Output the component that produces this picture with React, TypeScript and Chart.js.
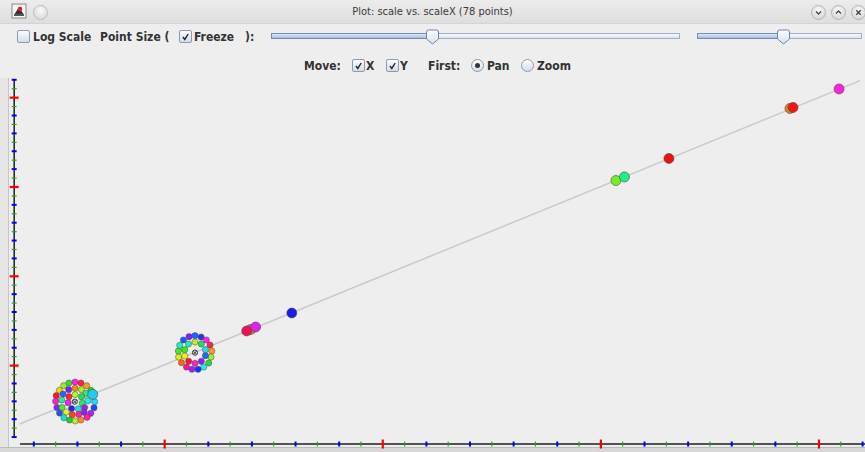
import React, { useEffect, useRef } from "react";
import { Chart, registerables } from "chart.js";
Chart.register(...registerables);

// ---- data (data units of the plot) ----
const clusterAX = [5.61, 5.89, 6.16, 6.42, 5.37, 5.17, 5.60, 5.89, 6.18, 6.39, 6.62, 5.03, 5.34, 5.61, 5.89, 6.19, 5.28, 5.00, 5.57, 6.22, 6.48, 6.79, 5.06, 5.29, 5.73, 6.04, 6.33, 6.76, 5.18, 5.49, 5.76, 6.06, 6.31, 6.61, 5.38, 5.64, 5.90, 6.16, 6.44];
const clusterAY = [8.05, 8.16, 8.05, 7.75, 7.75, 7.23, 7.31, 7.46, 7.31, 6.90, 7.23, 6.63, 6.82, 6.52, 6.75, 6.52, 6.15, 6.00, 5.85, 5.78, 6.07, 5.96, 5.31, 5.31, 5.20, 5.16, 5.31, 5.28, 4.69, 4.81, 4.51, 4.54, 4.77, 4.66, 4.17, 3.91, 3.80, 3.91, 4.21];
const clusterAColors = ["#33dd33", "#ff22dd", "#ff2244", "#ff9922", "#99ee22", "#ffcc11", "#7722ee", "#ff8811", "#aaee22", "#22ee88", "#22dd22", "#ff1133", "#2266ff", "#ff2233", "#aaff22", "#22dd55", "#22eeaa", "#ff22bb", "#ee22ee", "#22ee66", "#22eeee", "#22ddff", "#8822ff", "#44ee22", "#2222ff", "#22dddd", "#9922ee", "#2244ff", "#2255ff", "#eeee22", "#ff4411", "#ff22aa", "#8822ee", "#aa22ee", "#22ddcc", "#22cc33", "#bbee22", "#ff8822", "#ff2299"];

const clusterBX = [10.86, 11.12, 11.39, 11.67, 11.91, 12.08, 12.16, 12.12, 12.02, 11.79, 11.53, 11.25, 11.00, 10.77, 10.64, 10.63, 10.69, 11.09, 11.39, 11.68, 11.87, 11.87, 11.68, 11.39, 11.10, 10.92, 10.92];
const clusterBY = [12.87, 13.24, 13.35, 13.20, 12.87, 12.31, 11.64, 10.96, 10.29, 9.84, 9.59, 9.59, 9.84, 10.33, 10.96, 11.64, 12.27, 12.42, 12.64, 12.42, 11.78, 11.11, 10.48, 10.26, 10.48, 11.08, 11.78];
const clusterBColors = ["#2255ff", "#8022ff", "#1a66ff", "#3333ee", "#ff22ee", "#ff2244", "#ff9922", "#aaee22", "#22dd44", "#22eeee", "#1133ff", "#a022ee", "#ff11a0", "#ff6611", "#ddee11", "#44ee22", "#22eec0", "#22eeb0", "#c0ee22", "#22dd66", "#22ddee", "#2266ff", "#9022ee", "#ff22c0", "#ff1133", "#eeee22", "#33ee22"];

const singleX = [6.70, 13.94, 13.76, 14.17, 15.83, 30.69, 31.08, 33.12, 38.67, 38.81, 40.92];
const singleY = [6.78, 14.04, 13.88, 14.32, 15.89, 30.72, 31.12, 33.19, 38.79, 38.90, 40.97];
const singleColors = ["#22ccee", "#ee7711", "#ee1155", "#dd22ee", "#1a1aee", "#77ee22", "#22ee88", "#ee1111", "#dd8811", "#ff1111", "#ff22dd"];

const centerX = [5.88, 11.39];
const centerY = [5.96, 11.45];

const fitX = [3.35, 41.88];
const fitY = [3.46, 41.90];

// axis ticks
const xTickFirst = 4;
const xTickLast = 42;
const yTickFirst = 2;
const yTickLast = 42;
const majorEvery = 10;

const xMin = 3.0, xMax = 42.11, yMin = 1.0, yMax = 42.2;
const yAxisAtX = 3.1, xAxisAtY = 1.22;
const xAxisFrom = 3.37, yAxisFrom = 1.9, yAxisTo = 41.98;

const pts = (xs: number[], ys: number[]) => xs.map((x, i) => ({ x, y: ys[i] }));

function tickStyle(v: number) {
  if (v % majorEvery === 0) return { c: "#ff0000", w: 2.2, l: 4.5 };
  if (v % 2 === 1) return { c: "#22aa22", w: 1.2, l: 2.5 };
  return { c: "#0000ff", w: 2, l: 2.5 };
}

const axesPlugin = {
  id: "javaAxes",
  beforeDatasetsDraw(chart: any) {
    const { ctx, scales } = chart;
    const x = scales.x, y = scales.y;
    const ax = x.getPixelForValue(yAxisAtX);
    const ay = y.getPixelForValue(xAxisAtY);
    ctx.save();
    ctx.strokeStyle = "#1e1e1e";
    ctx.lineWidth = 1.5;
    ctx.beginPath();
    ctx.moveTo(ax, y.getPixelForValue(yAxisTo));
    ctx.lineTo(ax, y.getPixelForValue(yAxisFrom));
    ctx.stroke();
    ctx.beginPath();
    ctx.moveTo(x.getPixelForValue(xAxisFrom), ay);
    ctx.lineTo(x.getPixelForValue(xMax), ay);
    ctx.stroke();
    for (let v = xTickFirst; v <= xTickLast; v++) {
      const s = tickStyle(v);
      const p = x.getPixelForValue(v);
      ctx.strokeStyle = s.c;
      ctx.lineWidth = s.w;
      ctx.beginPath();
      ctx.moveTo(p, ay - s.l);
      ctx.lineTo(p, ay + s.l);
      ctx.stroke();
    }
    for (let v = yTickFirst; v <= yTickLast; v++) {
      const s = tickStyle(v);
      const p = y.getPixelForValue(v);
      ctx.strokeStyle = s.c;
      ctx.lineWidth = s.w;
      ctx.beginPath();
      ctx.moveTo(ax - s.l, p);
      ctx.lineTo(ax + s.l, p);
      ctx.stroke();
    }
    ctx.restore();
  },
};

const FONT = '"DejaVu Sans Condensed", "DejaVu Sans", sans-serif';

function Box({ left, top, checked }: { left: number; top: number; checked?: boolean }) {
  return (
    <div style={{ position: "absolute", left, top, width: 11, height: 11, border: "1px solid #8d9bb0", borderRadius: 2, background: "linear-gradient(#fbfcfe, #d3ddea)" }}>
      {checked && (
        <svg width={11} height={11} style={{ position: "absolute", left: 0, top: 0 }}>
          <path d="M3 6 L4.8 8.4 L8.2 3" stroke="#222" strokeWidth={1.4} fill="none" />
        </svg>
      )}
    </div>
  );
}

function Radio({ left, top, selected }: { left: number; top: number; selected?: boolean }) {
  return (
    <div style={{ position: "absolute", left, top, width: 11, height: 11, border: "1px solid #8d9bb0", borderRadius: "50%", background: "linear-gradient(#fbfcfe, #d3ddea)" }}>
      {selected && <div style={{ position: "absolute", left: 3, top: 3, width: 5, height: 5, borderRadius: "50%", background: "#333" }} />}
    </div>
  );
}

function Label({ left, top, text }: { left: number; top: number; text: string }) {
  return <span style={{ position: "absolute", left, top, font: `bold 12px ${FONT}`, color: "#333", whiteSpace: "pre", lineHeight: "14px" }}>{text}</span>;
}

function Slider({ left, width, thumb }: { left: number; width: number; thumb: number }) {
  return (
    <>
      <div style={{ position: "absolute", left, top: 33, width, height: 4, border: "1px solid #9fb0c6", background: "linear-gradient(#f6f8fb, #dde4ee)" }} />
      <div style={{ position: "absolute", left, top: 33, width: thumb - left, height: 4, border: "1px solid #6f8fb8", background: "linear-gradient(#dfe8f4, #a8bedb)" }} />
      <svg width={15} height={16} style={{ position: "absolute", left: thumb - 7, top: 29 }}>
        <defs>
          <linearGradient id={`tg${left}`} x1="0" y1="0" x2="0" y2="1">
            <stop offset="0" stopColor="#ffffff" />
            <stop offset="1" stopColor="#d4e0ee" />
          </linearGradient>
        </defs>
        <path d="M1.5 3 Q1.5 1 3.5 1 L11.5 1 Q13.5 1 13.5 3 L13.5 10 L7.5 15 L1.5 10 Z" fill={`url(#tg${left})`} stroke="#6a88ae" strokeWidth={1} />
      </svg>
    </>
  );
}

function WinButton({ cx, kind }: { cx: number; kind: string }) {
  return (
    <div style={{ position: "absolute", left: cx - 7, top: 5, width: 13, height: 13, borderRadius: "50%", border: "1px solid #b5b5b5", background: "radial-gradient(circle at 50% 35%, #fafafa, #cfcfcf)" }}>
      <svg width={13} height={13} style={{ position: "absolute", left: 0, top: 0 }}>
        {kind === "down" && <path d="M4 5.5 L6.5 8 L9 5.5" stroke="#444" strokeWidth={1.3} fill="none" />}
        {kind === "up" && <path d="M4 7.5 L6.5 5 L9 7.5" stroke="#444" strokeWidth={1.3} fill="none" />}
        {kind === "x" && <path d="M4.3 4.3 L8.7 8.7 M8.7 4.3 L4.3 8.7" stroke="#444" strokeWidth={1.4} fill="none" />}
      </svg>
    </div>
  );
}

export default function App() {
  const ref = useRef<HTMLCanvasElement | null>(null);
  useEffect(() => {
    document.body.style.margin = "0";
    const cv = ref.current;
    if (!cv) return;
    const border = "rgba(70,70,70,0.6)";
    const chart = new Chart(cv, {
      type: "scatter",
      data: {
        datasets: [
          {
            type: "line",
            data: pts(fitX, fitY),
            borderColor: "#c9c9c9",
            borderWidth: 1.5,
            pointRadius: 0,
            fill: false,
            order: 10,
            clip: false as any,
          } as any,
          {
            data: pts(clusterAX, clusterAY),
            backgroundColor: clusterAColors,
            borderColor: border,
            borderWidth: 0.8,
            pointRadius: 3.1,
            order: 5,
            clip: false as any,
          },
          {
            data: pts(clusterBX, clusterBY),
            backgroundColor: clusterBColors,
            borderColor: border,
            borderWidth: 0.8,
            pointRadius: 3.1,
            order: 5,
            clip: false as any,
          },
          {
            data: pts(singleX, singleY),
            backgroundColor: singleColors,
            borderColor: border,
            borderWidth: 1,
            pointRadius: 5,
            order: 2,
            clip: false as any,
          },
          {
            data: pts(centerX, centerY),
            backgroundColor: "rgba(0,0,0,0)",
            borderColor: "#333",
            borderWidth: 1,
            pointRadius: 2.6,
            pointStyle: "circle",
            order: 1,
          },
          {
            data: pts(centerX, centerY),
            borderColor: "#333",
            borderWidth: 1,
            pointRadius: 2,
            pointStyle: "crossRot",
            order: 0,
          },
        ],
      },
      options: {
        animation: false,
        responsive: false,
        devicePixelRatio: 1,
        layout: { autoPadding: false, padding: { left: 12, right: 0, top: 0, bottom: 6 } },
        plugins: { legend: { display: false }, tooltip: { enabled: false } },
        events: [],
        scales: {
          x: { type: "linear", min: xMin, max: xMax, display: false },
          y: { type: "linear", min: yMin, max: yMax, display: false },
        },
      },
      plugins: [axesPlugin],
    } as any);
    return () => chart.destroy();
  }, []);

  return (
    <div style={{ position: "fixed", left: 0, top: 0, width: 865, height: 452, background: "#eeeeee", overflow: "hidden", fontFamily: FONT }}>
      {/* title bar */}
      <div style={{ position: "absolute", left: 0, top: 0, width: 865, height: 23, background: "linear-gradient(#ececec, #dedede)", borderBottom: "1px solid #d4d4d4" }} />
      <svg width={16} height={16} style={{ position: "absolute", left: 11, top: 3 }}>
        <rect x={1} y={1} width={14} height={14} fill="#f4f4f4" stroke="#888" />
        <path d="M3 12 L8 4 L13 12 Z" fill="#333" />
        <circle cx={9} cy={6} r={2.3} fill="#d22" />
        <rect x={3} y={11} width={10} height={2} fill="#555" />
      </svg>
      <div style={{ position: "absolute", left: 33, top: 5, width: 13, height: 13, borderRadius: "50%", border: "1px solid #bdbdbd", background: "radial-gradient(circle at 50% 35%, #fafafa, #d2d2d2)" }} />
      <div style={{ position: "absolute", left: 0, top: 4, width: 865, textAlign: "center", font: `11px ${FONT}`, color: "#3a3a3a", lineHeight: "15px" }}>Plot: scale vs. scaleX (78 points)</div>
      <WinButton cx={818} kind="down" />
      <WinButton cx={838} kind="up" />
      <WinButton cx={858} kind="x" />

      {/* controls row 1 */}
      <Box left={17} top={30} />
      <Label left={33} top={30} text="Log Scale" />
      <Label left={100} top={30} text="Point Size (" />
      <Box left={179} top={30} checked />
      <Label left={194} top={30} text="Freeze" />
      <Label left={245} top={30} text="):" />
      <Slider left={271} width={407} thumb={432} />
      <Slider left={697} width={163} thumb={783} />

      {/* controls row 2 */}
      <Label left={304} top={59} text="Move:" />
      <Box left={352} top={59} checked />
      <Label left={366} top={59} text="X" />
      <Box left={386} top={59} checked />
      <Label left={400} top={59} text="Y" />
      <Label left={428} top={59} text="First:" />
      <Radio left={471} top={59} selected />
      <Label left={487} top={59} text="Pan" />
      <Radio left={521} top={59} />
      <Label left={537} top={59} text="Zoom" />

      {/* plot panel frame */}
      <div style={{ position: "absolute", left: 0, top: 78, width: 8, height: 374, background: "#e6e6e6", borderRight: "1px solid #c6c6c6" }} />
      <div style={{ position: "absolute", left: 0, top: 447, width: 865, height: 5, background: "#d8d8d8", borderTop: "1px solid #bcbcbc" }} />
      <canvas ref={ref} width={865} height={374} style={{ position: "absolute", left: 0, top: 78, width: 865, height: 374 }} />
    </div>
  );
}
